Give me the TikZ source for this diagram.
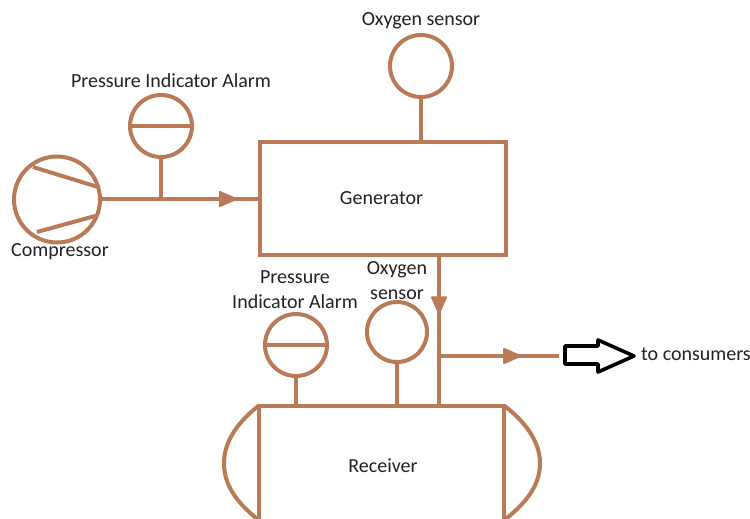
\documentclass[tikz,border=0pt]{standalone}
\usepackage{fontspec}
\setmainfont{Carlito}
\usetikzlibrary{arrows.meta,decorations.markings,calc}
\definecolor{pipe}{HTML}{B97A57}
\definecolor{txt}{HTML}{222222}
\tikzset{
 x=1pt,y=-1pt,
 pipeline/.style={draw=pipe,line width=4pt},
 gauge/.style={circle,draw=pipe,line width=4pt,inner sep=0pt,outer sep=0pt,minimum size=#1},
 vessel/.style={rectangle,draw=pipe,line width=4pt,inner sep=0pt,outer sep=0pt,text=txt,font=\fontsize{20}{24}\selectfont},
 lbl/.style={text=txt,inner sep=0pt,align=center,font=\fontsize{20}{25}\selectfont},
 flow/.style={postaction={decorate},decoration={markings,mark=at position #1 with {\fill[pipe,draw=pipe,line width=2pt,line join=round] (-8pt,-7pt) -- (8pt,0pt) -- (-8pt,7pt) -- cycle;}}}
}
\begin{document}
\begin{tikzpicture}
\useasboundingbox (0,0) rectangle (750,519);
\fill[white] (0,0) rectangle (750,519);
% compressor
\node[gauge=86pt] (comp) at (57,199.5) {};
\draw[pipeline] (33,167) -- (98,187);
\draw[pipeline] (37,232) -- (95,216);
% generator
\node[vessel,minimum width=246pt,minimum height=113pt] (gen) at (383,198.5) {};
\node[text=txt,inner sep=0pt,font=\fontsize{20}{24}\selectfont] (gentxt) at (381.5,198.5) {Generator};
% top gauges
\node[gauge=62pt] (pia) at (161,126) {};
\draw[pipeline] (pia.west) -- (pia.east);
\node[gauge=62pt] (oxy) at (421,66) {};
\coordinate (j1) at (161,199);
\coordinate (g1) at (260,199);
\draw[pipeline] (oxy.south) -- (oxy.south |- gen.north);
\draw[pipeline] (pia.south) -- (j1);
\draw[pipeline,flow=0.80] (comp.east |- j1) -- (g1);
% receiver
\node[vessel,minimum width=245pt,minimum height=115pt] (rec) at (381.5,463) {};
\node[text=txt,inner sep=0pt,font=\fontsize{20}{24}\selectfont] (rectxt) at (383,466) {Receiver};
\draw[pipeline] (rec.north west) .. controls (240,420) and (224,440) .. (224,463) .. controls (224,488) and (240,505) .. (rec.south west);
\draw[pipeline] (rec.north east) .. controls (523,420) and (540,440) .. (540,463) .. controls (540,488) and (523,505) .. (rec.south east);
% lower gauges
\node[gauge=62pt] (pib) at (296,345) {};
\draw[pipeline] (pib.west) -- (pib.east);
\node[gauge=60pt] (oxb) at (397,332) {};
\draw[pipeline] (pib.south) -- (pib.south |- rec.north);
\draw[pipeline] (oxb.south) -- (oxb.south |- rec.north);
\coordinate (g2) at (439,255);
\coordinate (r2) at (439,405);
\coordinate (j2) at (439,356);
\coordinate (e2) at (559,356);
\draw[pipeline,flow=0.335] (g2) -- (r2);
\draw[pipeline,flow=0.61] (j2) -- (e2);
% big outlet arrow
\draw[black,line width=3.6pt,line join=round,fill=white] (565,346) -- (598,346) -- (598,340) -- (634,356) -- (598,372) -- (598,364) -- (565,364) -- cycle;
% labels
\node[lbl] (t1) at (421,21) {Oxygen sensor};
\node[lbl] (t2) at (171,81) {Pressure Indicator Alarm};
\node[lbl] (t3) at (60,252) {Compressor};
\node[lbl] (t4) at (295,289.5) {Pressure\\Indicator Alarm};
\node[lbl] (t5) at (397,280.5) {Oxygen\\sensor};
\node[lbl] (t6) at (696,354) {to consumers};
\end{tikzpicture}
\end{document}
